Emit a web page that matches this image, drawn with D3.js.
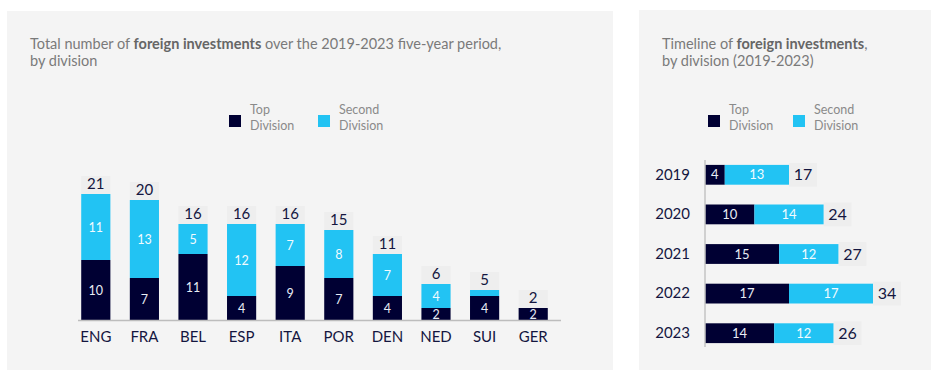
<!DOCTYPE html>
<html><head><meta charset="utf-8">
<script src="https://cdn.jsdelivr.net/npm/d3@7"></script>
<style>
html,body{margin:0;padding:0;background:#fff;}
svg{display:block;font-family:Lato,"Open Sans",sans-serif;}
</style></head>
<body>
<svg id="c" width="939" height="373"></svg>
<script>
// Left chart data
const countries = ["ENG","FRA","BEL","ESP","ITA","POR","DEN","NED","SUI","GER"];
const countryTop = [10,7,11,4,9,7,4,2,4,2];
const countrySecond = [11,13,5,12,7,8,7,4,1,0];
// Right chart data
const years = ["2019","2020","2021","2022","2023"];
const yearTop = [4,10,15,17,14];
const yearSecond = [13,14,12,17,12];
const seriesNames = ["Top\nDivision","Second\nDivision"];

const DARK = "#000033", CYAN = "#22c3f3", PANEL = "#f4f4f4", LBLBG = "#eeeeee";
const TXT = "#14163f", GREY = "#7a7a7a";

const svg = d3.select("#c");

// panels
svg.append("rect").attr("x",7).attr("y",11).attr("width",606).attr("height",359).attr("fill",PANEL);
svg.append("rect").attr("x",639).attr("y",10).attr("width",292).attr("height",360).attr("fill",PANEL);

function title(x, y, parts) {
  const t = svg.append("text").attr("x",x).attr("y",y).attr("font-size",14.5).attr("fill",GREY);
  parts.forEach(line => {
    const l = t.append("tspan").attr("x",x).attr("dy", line.first ? 0 : 17);
    line.segs.forEach(s => l.append("tspan").text(s[0]).attr("font-weight", s[1] ? 700 : 400).attr("fill", s[1] ? "#666" : GREY));
  });
}
title(30,49,[{first:true,segs:[["Total number of ",0],["foreign investments",1],[" over the 2019-2023 five-year period,",0]]},{segs:[["by division",0]]}]);
title(662,49,[{first:true,segs:[["Timeline of ",0],["foreign investments",1],[",",0]]},{segs:[["by division (2019-2023)",0]]}]);

function legend(x, y, x2) {
  [[x,DARK,seriesNames[0]],[x2,CYAN,seriesNames[1]]].forEach(([lx,c,name]) => {
    svg.append("rect").attr("x",lx).attr("y",y).attr("width",12).attr("height",12).attr("fill",c);
    const t = svg.append("text").attr("x",lx+21).attr("y",y-1).attr("font-size",12.5).attr("fill","#8a8a8a");
    name.split("\n").forEach((s,i) => t.append("tspan").attr("x",lx+21).attr("dy", i===0?0:16).text(s));
  });
}
legend(229,115,318);
legend(708,115,793);

// ---------- Left chart ----------
const x = d3.scaleBand().domain(countries).range([71.5,557.5]).paddingInner(0.4).paddingOuter(0.2);
const y = d3.scaleLinear().domain([0,21]).range([320,194]);
const gL = svg.append("g");
countries.forEach((c,i) => {
  const t = countryTop[i], s = countrySecond[i], tot = t + s;
  const bx = x(c), bw = x.bandwidth();
  gL.append("rect").attr("x",bx).attr("y",y(tot)-18).attr("width",bw).attr("height",18).attr("fill",LBLBG);
  gL.append("rect").attr("x",bx).attr("y",y(t)).attr("width",bw).attr("height",y(0)-y(t)).attr("fill",DARK);
  if (s>0) gL.append("rect").attr("x",bx).attr("y",y(tot)).attr("width",bw).attr("height",y(t)-y(tot)).attr("fill",CYAN);
  gL.append("text").attr("x",bx+bw/2).attr("y",y(tot)-5.5).attr("text-anchor","middle").attr("font-size",15).attr("fill",TXT).text(tot);
  gL.append("text").attr("x",bx+bw/2).attr("y",(y(0)+y(t))/2+4.5).attr("text-anchor","middle").attr("font-size",12.5).attr("fill","#e8edf5").text(t);
  if (s>1) gL.append("text").attr("x",bx+bw/2).attr("y",(y(t)+y(tot))/2+4.5).attr("text-anchor","middle").attr("font-size",12.5).attr("fill","#f2fbff").text(s);
});
gL.append("line").attr("x1",78).attr("x2",561).attr("y1",320.5).attr("y2",320.5).attr("stroke","#bdbdbd").attr("stroke-width",1.5);
const ax = d3.axisBottom(x).tickSize(0).tickPadding(11);
const axG = svg.append("g").attr("transform","translate(0,320)").call(ax);
axG.select(".domain").remove();
axG.selectAll("text").attr("font-size",15).attr("fill",TXT).attr("font-family","Lato,sans-serif");

// ---------- Right chart ----------
const yb = d3.scaleBand().domain(years).range([155,353]).paddingInner(0.5).paddingOuter(0.25);
const xr = d3.scaleLinear().domain([0,34]).range([705,873]);
const gR = svg.append("g");
years.forEach((yr,i) => {
  const t = yearTop[i], s = yearSecond[i], tot = t+s;
  const by = yb(yr), bh = yb.bandwidth();
  gR.append("rect").attr("x",xr(tot)).attr("y",by-2).attr("width",28).attr("height",bh+4).attr("fill",LBLBG);
  gR.append("rect").attr("x",xr(0)).attr("y",by).attr("width",xr(t)-xr(0)).attr("height",bh).attr("fill",DARK);
  gR.append("rect").attr("x",xr(t)).attr("y",by).attr("width",xr(tot)-xr(t)).attr("height",bh).attr("fill",CYAN);
  gR.append("text").attr("x",(xr(0)+xr(t))/2).attr("y",by+bh/2+4.5).attr("text-anchor","middle").attr("font-size",13).attr("fill","#e8edf5").text(t);
  gR.append("text").attr("x",(xr(t)+xr(tot))/2).attr("y",by+bh/2+4.5).attr("text-anchor","middle").attr("font-size",13).attr("fill","#f2fbff").text(s);
  gR.append("text").attr("x",xr(tot)+14).attr("y",by+bh/2+5.5).attr("text-anchor","middle").attr("font-size",16).attr("fill",TXT).text(tot);
});
gR.append("line").attr("x1",705).attr("x2",705).attr("y1",160).attr("y2",347).attr("stroke","#c4c4c4").attr("stroke-width",1.5);
const ay = d3.axisLeft(yb).tickSize(0).tickPadding(15);
const ayG = svg.append("g").attr("transform","translate(705,0)").call(ay);
ayG.select(".domain").remove();
ayG.selectAll("text").attr("font-size",15).attr("fill",TXT).attr("font-family","Lato,sans-serif");
</script>
</body></html>
